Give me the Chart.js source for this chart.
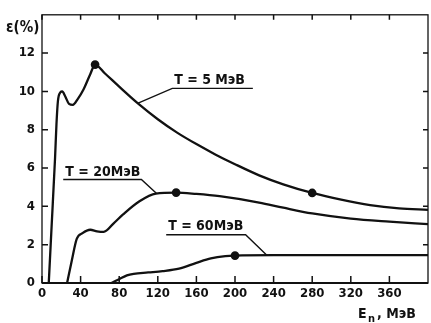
<!DOCTYPE html>
<html>
<head>
<meta charset="utf-8">
<script src="https://cdn.jsdelivr.net/npm/chart.js@4.4.0/dist/chart.umd.min.js"></script>
<style>
html, body { margin: 0; padding: 0; background: #fff; }
#wrap { width: 431px; height: 323px; }
</style>
</head>
<body>
<div id="wrap"><canvas id="myChart" width="431" height="323"></canvas></div>
<script>
// tick values
var xTicks = [0, 40, 80, 120, 160, 200, 240, 280, 320, 360];
var yTicks = [0, 2, 4, 6, 8, 10, 12];

// T = 5 MeV
var t5X = [7, 10, 13.5, 15, 16.5, 19, 21, 24, 28, 32, 37, 43, 50, 55, 65, 80, 100, 120, 140, 160, 180, 200, 225, 250, 280, 310, 340, 370, 400];
var t5Y = [0, 3, 6.5, 8.3, 9.5, 9.95, 10, 9.75, 9.35, 9.3, 9.6, 10.1, 10.9, 11.4, 10.95, 10.25, 9.35, 8.55, 7.85, 7.25, 6.7, 6.2, 5.62, 5.15, 4.7, 4.35, 4.07, 3.9, 3.82];
var t5Marks = [55, 280];

// T = 20 MeV
var t20X = [26, 31, 36, 42, 50, 57, 64, 74, 84, 101, 118, 139, 160, 184, 225, 250, 280, 320, 360, 400];
var t20Y = [0, 1.2, 2.3, 2.6, 2.78, 2.7, 2.67, 3.1, 3.58, 4.27, 4.67, 4.72, 4.65, 4.53, 4.2, 3.93, 3.63, 3.36, 3.2, 3.07];
var t20Marks = [139];

// T = 60 MeV
var t60X = [72, 80, 88, 95, 110, 125, 142, 160, 175, 190, 200, 240, 280, 320, 360, 400];
var t60Y = [0, 0.2, 0.4, 0.48, 0.55, 0.62, 0.75, 1.05, 1.28, 1.4, 1.43, 1.45, 1.45, 1.45, 1.45, 1.45];
var t60Marks = [200];

// curve labels: text start, underline, leader end (data units)
// fromStart: leader leaves from the left end of the underline
var labels = [
    {text: "T = 5 МэВ", x: 135, y: 10.37, lineY: 10.16, lineEnd: 218.5, toX: 99, toY: 9.38, fromStart: true},
    {text: "T = 20МэВ", x: 22, y: 5.57, lineY: 5.4, lineEnd: 103, toX: 118.5, toY: 4.68, fromStart: false},
    {text: "T = 60МэВ", x: 128.7, y: 2.78, lineY: 2.52, lineEnd: 211, toX: 233, toY: 1.45, fromStart: false}
];

var ink = "#111";
var font = "'DejaVu Sans Condensed', 'DejaVu Sans', sans-serif";

function toPoints(xs, ys) {
    var pts = [];
    for (var i = 0; i < xs.length; i++) pts.push({x: xs[i], y: ys[i]});
    return pts;
}

function series(xs, ys, marks) {
    return {
        data: toPoints(xs, ys),
        borderColor: ink,
        backgroundColor: ink,
        borderWidth: 2.3,
        cubicInterpolationMode: "monotone",
        pointRadius: function(ctx) {
            var p = ctx.raw;
            return p && marks.indexOf(p.x) >= 0 ? 3.2 : 0;
        },
        pointHoverRadius: 0
    };
}

// frame, inward ticks, titles and curve labels
var decor = {
    id: "decor",
    afterDraw: function(chart) {
        var c = chart.ctx, a = chart.chartArea;
        var xs = chart.scales.x, ys = chart.scales.y;
        c.save();
        c.strokeStyle = ink;
        c.lineWidth = 1.3;
        c.strokeRect(a.left, a.top, a.right - a.left, a.bottom - a.top);
        c.lineWidth = 2;
        c.beginPath();
        c.moveTo(a.left, a.bottom);
        c.lineTo(a.right, a.bottom);
        c.stroke();

        c.lineWidth = 1.5;
        c.beginPath();
        xTicks.forEach(function(v) {
            var px = xs.getPixelForValue(v);
            c.moveTo(px, a.bottom); c.lineTo(px, a.bottom - 7);
            c.moveTo(px, a.top); c.lineTo(px, a.top + 5);
        });
        yTicks.forEach(function(v) {
            var py = ys.getPixelForValue(v);
            c.moveTo(a.left, py); c.lineTo(a.left + 6, py);
            c.moveTo(a.right, py); c.lineTo(a.right - 5, py);
        });
        c.stroke();

        c.fillStyle = ink;
        c.textBaseline = "alphabetic";
        c.textAlign = "left";
        c.font = "bold 15px " + font;
        c.fillText("ε(%)", 6, 32);

        // x title with subscript
        c.font = "bold 14px " + font;
        c.fillText("E", 358, 318);
        c.font = "bold 11px " + font;
        c.fillText("n", 368, 322);
        c.font = "bold 14px " + font;
        c.fillText(", МэВ", 377, 318);

        labels.forEach(function(l) {
            var x0 = xs.getPixelForValue(l.x);
            var ly = ys.getPixelForValue(l.lineY);
            var lx = xs.getPixelForValue(l.lineEnd);
            var tx = xs.getPixelForValue(l.toX), ty = ys.getPixelForValue(l.toY);
            c.font = "bold 14px " + font;
            c.fillText(l.text, x0 + 2, ys.getPixelForValue(l.y));
            c.lineWidth = 1.4;
            c.beginPath();
            if (l.fromStart) {
                c.moveTo(tx, ty);
                c.lineTo(x0, ly);
                c.lineTo(lx, ly);
            } else {
                c.moveTo(x0, ly);
                c.lineTo(lx, ly);
                c.lineTo(tx, ty);
            }
            c.stroke();
        });
        c.restore();
    }
};

var ctx = document.getElementById("myChart").getContext("2d");
var myChart = new Chart(ctx, {
    type: "line",
    data: {
        datasets: [
            series(t5X, t5Y, t5Marks),
            series(t20X, t20Y, t20Marks),
            series(t60X, t60Y, t60Marks)
        ]
    },
    options: {
        responsive: false,
        animation: false,
        devicePixelRatio: 1,
        layout: {padding: {top: 11, right: 1, left: 0, bottom: 0}},
        plugins: {legend: {display: false}, tooltip: {enabled: false}},
        scales: {
            x: {
                type: "linear",
                min: 0,
                max: 400,
                afterFit: function(s) { s.height = 40; },
                grid: {display: false, drawTicks: false},
                border: {display: false},
                ticks: {
                    stepSize: 40,
                    padding: 3,
                    maxRotation: 0,
                    color: ink,
                    font: {family: font, size: 13, weight: "bold"},
                    callback: function(v) { return v > 360 ? "" : v; }
                }
            },
            y: {
                type: "linear",
                min: 0,
                max: 14,
                afterFit: function(s) { s.width = 42; },
                grid: {display: false, drawTicks: false},
                border: {display: false},
                ticks: {
                    stepSize: 2,
                    padding: 7,
                    color: ink,
                    font: {family: font, size: 13, weight: "bold"},
                    callback: function(v) { return v > 12 ? "" : v; }
                }
            }
        }
    },
    plugins: [decor]
});
</script>
</body>
</html>
